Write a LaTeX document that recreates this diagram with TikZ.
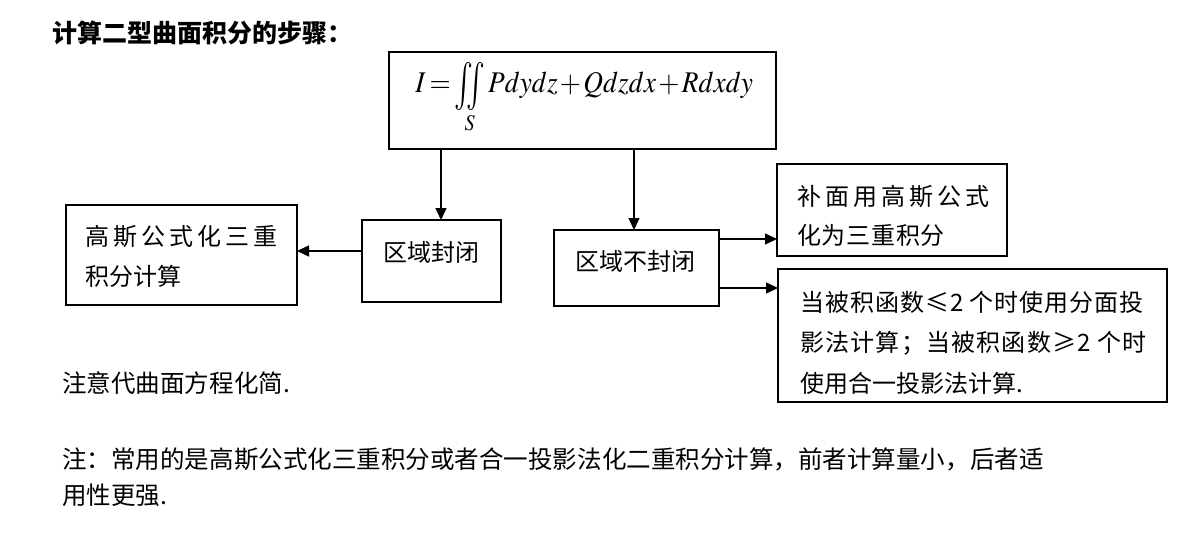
\documentclass[tikz,border=0pt]{standalone}
\usepackage{amsmath}
\usepackage{graphicx}
\usepackage{mathptmx}
\usepackage[no-math]{fontspec}
\newfontfamily\cjk{Noto Sans CJK SC}
\usetikzlibrary{arrows.meta}
\newdimen\pxu \pxu=0.75pt
\newcommand{\bigiint}{\mathop{\lower 4pt\hbox{\scalebox{1.15}[1.6]{$\iint$}}}\limits}
\begin{document}
\begin{tikzpicture}[x=0.75pt,y=-0.75pt,
 box/.style={draw, line width=1.6\pxu, inner sep=0pt, outer sep=0pt},
 txt/.style={font=\cjk\fontsize{18}{22}\selectfont, inner sep=0pt, anchor=west},
 note/.style={font=\cjk\fontsize{18.4}{22}\selectfont, inner sep=0pt, anchor=west},
 arr/.style={line width=1.05pt, -{Triangle[length=9pt,width=8.25pt]}},
]
\fill[white] (0,0) rectangle (1195,556);
\useasboundingbox (0,0) rectangle (1195,556);

\node[note, font=\cjk\bfseries\fontsize{18.75}{22}\selectfont] (title) at (52,33) {计算二型曲面积分的步骤：};

% boxes
\node[box, minimum width=387\pxu, minimum height=97\pxu] (F) at (582.5,100.5) {};
\node[anchor=base west, inner sep=0pt, font=\fontsize{22.5}{28}\selectfont] (Ftext) at (415,93)
  {\scalebox{0.91}[1]{\thickmuskip=2.5mu\medmuskip=1.5mu$I=\bigiint_{S} Pdydz+Qdzdx+Rdxdy$}};

\node[box, line width=2.2\pxu, minimum width=231\pxu, minimum height=100\pxu] (G) at (181.5,255) {};
\node[box, minimum width=139\pxu, minimum height=82\pxu] (C1) at (431.5,261) {};
\node[box, minimum width=165\pxu, minimum height=76\pxu] (C2) at (636.5,268) {};
\node[box, minimum width=230\pxu, minimum height=92\pxu] (B1) at (892,210) {};
\node[box, minimum width=389\pxu, minimum height=133\pxu] (B2) at (972.5,335.5) {};

% texts
\node[txt, font=\cjk\fontsize{18}{22}\selectfont\addfontfeature{LetterSpace=16.7}] (G1) at (85,237) {高斯公式化三重};
\node[txt] (G2) at (85,276) {积分计算};
\node[txt] (C1t) at (383,252) {区域封闭};
\node[txt] (C2t) at (575,261) {区域不封闭};
\node[txt, font=\cjk\fontsize{18}{22}\selectfont\addfontfeature{LetterSpace=16.7}] (B1a) at (797,197) {补面用高斯公式};
\node[txt, font=\cjk\fontsize{18}{22}\selectfont\addfontfeature{LetterSpace=3}] (B1b) at (797,235) {化为三重积分};
\node[txt, font=\cjk\fontsize{18}{22}\selectfont\addfontfeature{LetterSpace=4}] (B2a) at (800,302) {当被积函数≤2 个时使用分面投};
\node[txt, font=\cjk\fontsize{18}{22}\selectfont\addfontfeature{LetterSpace=5}] (B2b) at (800,343) {影法计算；当被积函数≥2 个时};
\node[txt] (B2c) at (800,383) {使用合一投影法计算.};

\node[note] (N1) at (62,383) {注意代曲面方程化简.};
\node[note] (N2) at (62,459) {注：常用的是高斯公式化三重积分或者合一投影法化二重积分计算，前者计算量小，后者适};
\node[note] (N3) at (62,495) {用性更强.};

% connectors
\coordinate (a1) at ([xshift=7.125pt]C1.north);
\coordinate (a2) at ([xshift=-1.875pt]C2.north);
\coordinate (a3) at ([yshift=7.5pt]C1.west);
\coordinate (a4) at ([yshift=21.75pt]C2.east);
\coordinate (a5) at ([yshift=-15pt]C2.east);
\draw[arr] (a1 |- F.south) -- (a1);
\draw[arr] (a2 |- F.south) -- (a2);
\draw[arr] (a3) -- (a3 -| G.east);
\draw[arr] (a4) -- (a4 -| B1.west);
\draw[arr] (a5) -- (a5 -| B2.west);
\end{tikzpicture}
\end{document}
